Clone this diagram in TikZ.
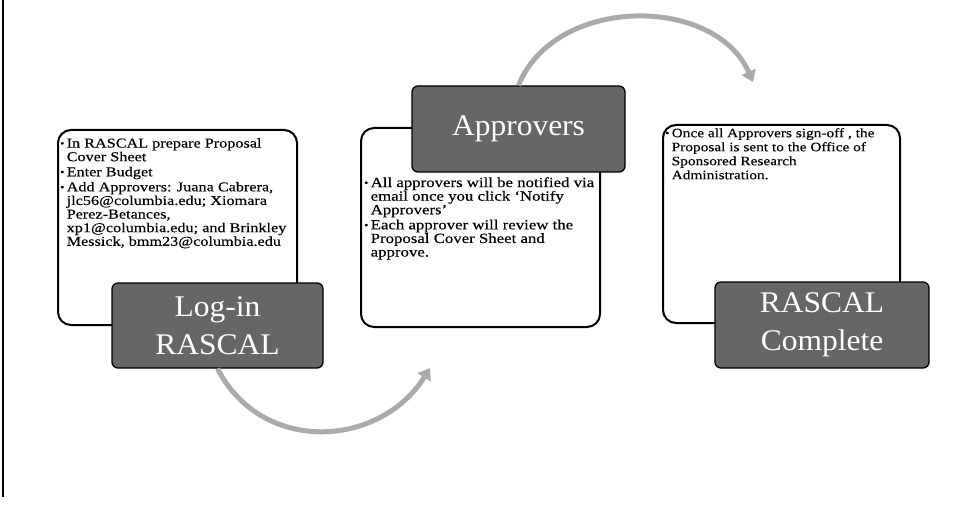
\documentclass[tikz,border=0pt]{standalone}
\usepackage{fontspec}
\setmainfont{Liberation Serif}
\newfontfamily\bodyfam[FakeStretch=1.2,FakeBold=0.3]{Liberation Serif}
\newfontfamily\titlefam[FakeStretch=1.05]{Liberation Serif}
\usetikzlibrary{arrows.meta}

% bullet and hanging indent for the step lists
\newcommand\bul{\makebox[6.5pt][l]{\raisebox{0.15ex}{\fontsize{10}{10}\selectfont\textbullet}}}
\newcommand\ind{\hspace*{6.5pt}}

\tikzset{
  infobox/.style={draw=black, line width=2pt, rounded corners=13pt, fill=white, inner sep=0pt},
  titlebox/.style={draw=black, line width=1.3pt, rounded corners=6pt, fill=black!60,
    text=white, inner sep=0pt, align=center,
    font=\titlefam\fontsize{30}{38}\selectfont},
  listtext/.style={anchor=north west, inner sep=0pt, align=left,
    font=\bodyfam\fontsize{14}{13.6}\selectfont},
  denselist/.style={listtext, font=\bodyfam\fontsize{13.5}{13.6}\selectfont},
  smalllist/.style={listtext, font=\bodyfam\fontsize{12.8}{14}\selectfont},
  flowarrow/.style={draw=black!33, line width=5pt,
    -{Triangle[length=11pt,width=15pt]}}
}

\begin{document}
\begin{tikzpicture}[x=1pt,y=-1pt]
\useasboundingbox (0,0) rectangle (962,508);

% page margin rule
\draw[line width=1.6pt] (3,0) -- (3,497);

% detail boxes
\node[infobox, minimum width=239pt, minimum height=195pt] (box1) at (177.5,227.5) {};
\node[infobox, minimum width=239pt, minimum height=199pt] (box2) at (480.5,227.5) {};
\node[infobox, minimum width=237pt, minimum height=198pt] (box3) at (781.5,224) {};

% step lists
\node[denselist] (list1) at (60,138) {%
\bul In RASCAL prepare Proposal\\
\ind Cover Sheet\\[1.5pt]
\bul Enter Budget\\[1.5pt]
\bul Add Approvers: Juana Cabrera,\\
\ind jlc56@columbia.edu; Xiomara\\
\ind Perez-Betances,\\
\ind xp1@columbia.edu; and Brinkley\\
\ind Messick, bmm23@columbia.edu};

\node[listtext] (list2) at (364,177) {%
\bul All approvers will be notified via\\
\ind email once you click ‘Notify\\
\ind Approvers’\\[1.5pt]
\bul Each approver will review the\\
\ind Proposal Cover Sheet and\\
\ind approve.};

\node[smalllist] (list3) at (665,128) {%
\bul Once all Approvers sign-off , the\\
\ind Proposal is sent to the Office of\\
\ind Sponsored Research\\
\ind Administration.};

% step titles
\node[titlebox, minimum width=211pt, minimum height=85pt] (login) at (217.5,325.5) {Log-in\\RASCAL};
\node[titlebox, minimum width=213pt, minimum height=86pt] (appr) at (518.5,129) {Approvers};
\node[titlebox, minimum width=214pt, minimum height=86pt] (done) at (822,325) {RASCAL\\Complete};

% flow arrows between steps
\coordinate (tipA) at (430,368);
\coordinate (tipB) at (753,82);
\draw[flowarrow] (login.south) .. controls (262,455) and (380,448) .. (tipA);
\draw[flowarrow] (appr.north) .. controls (555,-5) and (715,-5) .. (tipB);
\end{tikzpicture}
\end{document}
